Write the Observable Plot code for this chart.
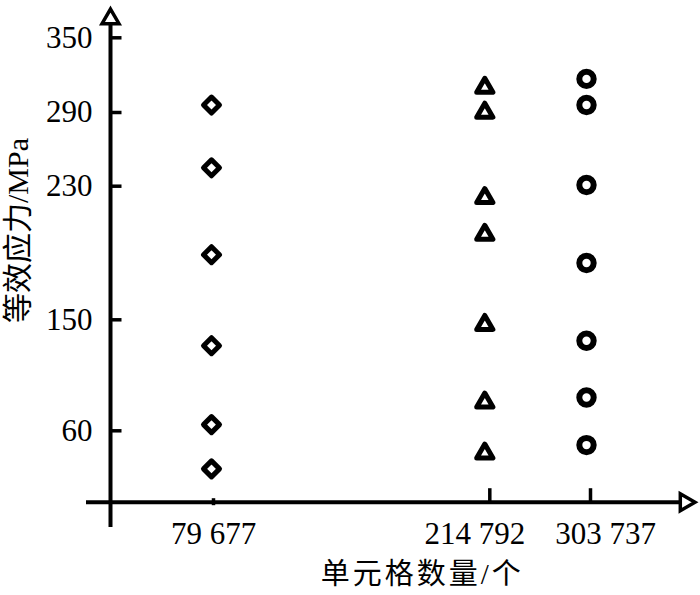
<!DOCTYPE html>
<html>
<head>
<meta charset="utf-8">
<script src="https://cdn.jsdelivr.net/npm/d3@7"></script>
<script src="https://cdn.jsdelivr.net/npm/@observablehq/plot@0.6"></script>
<style>
  body { margin: 0; background: #fff; }
  .title-x text { letter-spacing: 3px; }
</style>
</head>
<body>
<div id="chart"></div>
<script>
// ---- data ----
const categories = [79677, 214792, 303737];          // 单元格数量/个
const tickLabels = ["79 677", "214 792", "303 737"];
const stress79677 = [296, 245, 189, 129, 65, 28];       // diamonds
const stress214792 = [310, 290, 223, 201, 146, 83, 41]; // triangles
const stress303737 = [317, 296, 231, 184, 133, 87, 48]; // circles
const yTicks = [60, 150, 230, 290, 350];
const yTitle = "等效应力/MPa";
const xTitle = "单元格数量/个";

// ---- layout (the axes of the reference are not linear: piecewise scales) ----
const W = 700, H = 595;
const yBreaks = [0, ...yTicks];
const yPix = [501.7, 430.3, 319.3, 185.7, 112, 37.3];
const xBreaks = [0, ...categories];
const xPix = [110, 213, 489.3, 590];
const yS = d3.scaleLinear(yBreaks, yPix);
const xS = d3.scaleLinear(xBreaks, xPix);
const xLabelNudge = [0, -15, 15];

const serif = "'Liberation Serif', 'Noto Sans CJK SC', serif";

const tickRight = {draw(ctx) { ctx.moveTo(0, 0); ctx.lineTo(11, 0); }};
const tickUp = {draw(ctx) { ctx.moveTo(0, 0); ctx.lineTo(0, -14); }};
const tickNub = {draw(ctx) { ctx.moveTo(0, -4); ctx.lineTo(0, 3); }};

const series = [
  {n: categories[0], v: stress79677, symbol: "diamond2", r: 7.2, sw: 5, dx: -2},
  {n: categories[1], v: stress214792, symbol: "triangle", r: 6, sw: 5, dx: -5},
  {n: categories[2], v: stress303737, symbol: "circle", r: 7.2, sw: 6, dx: -4}
];

const plot = Plot.plot({
  width: W,
  height: H,
  marginLeft: xPix[0],
  marginTop: 0,
  marginRight: 0,
  marginBottom: H - yPix[0],
  style: {background: "white", color: "black", fontFamily: serif},
  x: {type: "linear", domain: xBreaks, range: xPix, axis: null},
  y: {type: "linear", domain: yBreaks, range: yPix, axis: null},
  marks: [
    // axis lines
    Plot.ruleX([0], {x: d => d, y1: yS.invert(527), y2: yS.invert(20), stroke: "black", strokeWidth: 4}),
    Plot.ruleY([0], {y: d => d, x1: xS.invert(86), x2: xS.invert(682), stroke: "black", strokeWidth: 4}),
    // arrow heads
    Plot.dot([0], {x: 0, y: yS.invert(18.3), symbol: "triangle", r: 6.3, fill: "white", stroke: "black", strokeWidth: 3.5}),
    Plot.dot([0], {x: xS.invert(684.7), y: 0, symbol: "triangle", rotate: 90, r: 6.3, fill: "white", stroke: "black", strokeWidth: 3.5}),
    // ticks
    Plot.dot(yTicks, {x: 0, y: d => d, symbol: tickRight, fill: "none", stroke: "black", strokeWidth: 3.5}),
    Plot.dot(categories.slice(0, 1), {x: d => d, y: 0, symbol: tickNub, fill: "none", stroke: "black", strokeWidth: 3.5}),
    Plot.dot(categories.slice(1), {x: d => d, y: 0, symbol: tickUp, fill: "none", stroke: "black", strokeWidth: 3.5}),
    // tick labels
    Plot.axisY(yTicks, {tickSize: 0, tickPadding: 18, fontSize: 31, fontFamily: serif, fill: "black", label: null}),
    ...categories.map((c, i) => Plot.axisX([c], {
      tickSize: 0, tickPadding: 20, dx: xLabelNudge[i], fontSize: 31, fontFamily: serif,
      fill: "black", label: null, tickFormat: () => tickLabels[i]
    })),
    // data points
    ...series.map(s => Plot.dot(s.v, {
      x: () => s.n, y: d => d, symbol: s.symbol, r: s.r, dx: s.dx,
      fill: "none", stroke: "black", strokeWidth: s.sw, strokeLinejoin: "round"
    })),
    // titles
    Plot.text([yTitle], {frameAnchor: "top-left", dx: -92, dy: 230, rotate: -90,
      textAnchor: "middle", lineAnchor: "middle", fontSize: 30, fontFamily: serif, fill: "black"}),
    Plot.text([xTitle], {frameAnchor: "bottom", dx: 16.7, dy: 72.3,
      textAnchor: "middle", lineAnchor: "middle", fontSize: 29, fontFamily: serif, fill: "black", className: "title-x"})
  ]
});
document.getElementById("chart").appendChild(plot);
</script>
</body>
</html>
